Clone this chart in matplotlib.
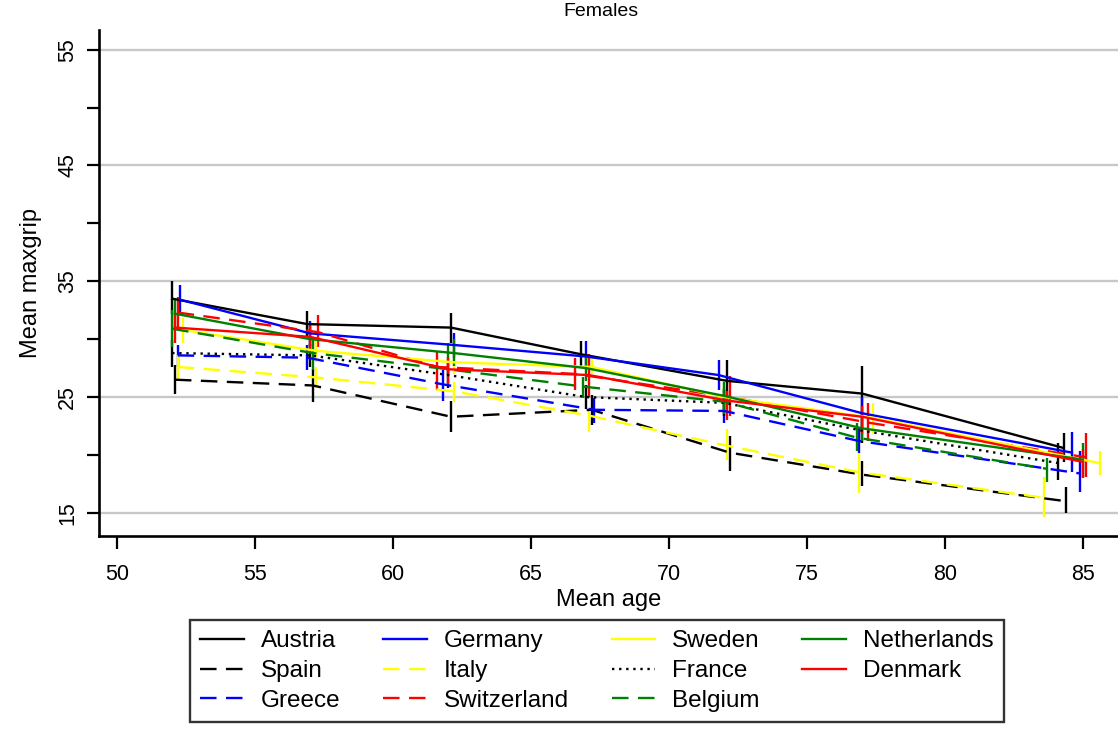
import matplotlib
matplotlib.use("Agg")
import matplotlib.pyplot as plt

plt.rcParams['font.family'] = ['Liberation Sans', 'DejaVu Sans']

# ---- data ----
countries = ['Austria', 'Spain', 'Greece', 'Germany', 'Italy', 'Switzerland',
             'Sweden', 'France', 'Belgium', 'Netherlands', 'Denmark']

age = {
    'Austria':     [52.0, 56.9, 62.1, 66.8, 72.1, 77.0, 84.3],
    'Spain':       [52.1, 57.1, 62.1, 67.2, 72.2, 77.0, 84.4],
    'Greece':      [52.2, 56.9, 61.8, 67.3, 72.0, 76.9, 84.9],
    'Germany':     [52.3, 57.0, 62.2, 67.0, 71.8, 77.0, 84.6],
    'Italy':       [52.2, 57.2, 62.2, 67.1, 72.1, 76.9, 83.6],
    'Switzerland': [52.2, 57.3, 61.6, 66.6, 72.2, 77.2, 85.1],
    'Sweden':      [52.4, 57.2, 62.2, 67.2, 72.0, 77.4, 85.6],
    'France':      [52.0, 57.0, 62.0, 67.0, 72.0, 77.0, 84.1],
    'Belgium':     [52.0, 57.1, 62.0, 66.9, 72.0, 76.8, 83.7],
    'Netherlands': [52.1, 57.0, 62.2, 67.0, 72.0, 77.0, 85.0],
    'Denmark':     [52.1, 57.0, 62.0, 67.1, 72.1, 77.0, 85.0],
}

grip = {
    'Austria':     [33.5, 31.3, 31.0, 28.7, 26.4, 25.3, 20.6],
    'Spain':       [26.5, 26.0, 23.3, 23.9, 20.2, 18.3, 16.0],
    'Greece':      [28.6, 28.4, 26.1, 23.9, 23.8, 21.2, 18.4],
    'Germany':     [33.4, 30.5, 29.5, 28.5, 26.9, 23.6, 20.2],
    'Italy':       [27.6, 26.7, 25.5, 23.4, 20.8, 18.5, 16.3],
    'Switzerland': [32.3, 30.6, 27.6, 27.0, 25.0, 22.8, 19.8],
    'Sweden':      [30.8, 29.0, 28.0, 27.6, 25.0, 23.2, 19.3],
    'France':      [28.8, 28.6, 26.9, 25.0, 24.5, 22.1, 19.3],
    'Belgium':     [30.9, 28.8, 27.4, 25.9, 24.6, 21.5, 18.8],
    'Netherlands': [32.2, 30.0, 28.8, 27.5, 25.1, 22.3, 19.6],
    'Denmark':     [31.0, 30.2, 27.4, 26.9, 24.7, 23.3, 19.4],
}

ci_low = {
    'Austria':     [32.2, 30.2, 29.7, 27.6, 24.5, 23.0, 19.4],
    'Spain':       [25.3, 24.6, 22.0, 22.6, 18.6, 17.3, 15.0],
    'Greece':      [27.6, 27.3, 24.7, 22.8, 22.8, 20.2, 16.8],
    'Germany':     [32.2, 29.4, 28.4, 27.4, 25.6, 22.2, 18.5],
    'Italy':       [26.5, 25.8, 24.6, 22.0, 19.6, 16.7, 14.6],
    'Switzerland': [31.0, 29.3, 25.6, 25.6, 23.4, 21.2, 18.1],
    'Sweden':      [29.7, 28.0, 27.0, 27.0, 23.8, 21.9, 18.3],
    'France':      [27.6, 27.6, 25.8, 24.0, 23.4, 21.0, 17.8],
    'Belgium':     [29.3, 27.3, 26.9, 24.9, 23.5, 20.3, 17.7],
    'Netherlands': [31.0, 28.9, 27.7, 26.4, 24.0, 21.2, 18.0],
    'Denmark':     [29.7, 29.0, 26.1, 25.0, 23.0, 21.8, 18.1],
}

ci_high = {
    'Austria':     [35.0, 32.4, 32.3, 29.8, 28.2, 27.7, 21.9],
    'Spain':       [27.8, 27.4, 24.7, 25.2, 21.6, 19.5, 17.2],
    'Greece':      [29.5, 29.5, 27.3, 24.9, 24.9, 22.4, 20.3],
    'Germany':     [34.7, 31.6, 30.5, 29.8, 28.2, 25.0, 22.0],
    'Italy':       [28.6, 27.6, 26.3, 23.9, 22.2, 20.2, 18.1],
    'Switzerland': [33.6, 32.1, 28.9, 28.4, 26.8, 24.5, 21.9],
    'Sweden':      [31.8, 30.0, 29.2, 28.6, 26.2, 24.5, 20.3],
    'France':      [29.9, 29.6, 28.0, 26.0, 25.6, 23.0, 21.0],
    'Belgium':     [32.5, 30.2, 29.7, 26.7, 25.8, 22.8, 19.7],
    'Netherlands': [33.5, 31.1, 30.0, 28.6, 26.3, 23.5, 21.0],
    'Denmark':     [32.3, 31.4, 28.5, 28.7, 25.5, 24.2, 20.5],
}

# ---- styles ----
colors = {
    'Austria': 'black', 'Spain': 'black', 'Greece': '#0000ff',
    'Germany': '#0000ff', 'Italy': '#ffff00', 'Switzerland': '#ff0000',
    'Sweden': '#ffff00', 'France': 'black', 'Belgium': '#008000',
    'Netherlands': '#008000', 'Denmark': '#ff0000',
}
dash = (0, (7, 4))
dot = (0, (1, 2.0))
styles = {
    'Austria': '-', 'Spain': dash, 'Greece': dash, 'Germany': '-',
    'Italy': dash, 'Switzerland': dash, 'Sweden': '-', 'France': dot,
    'Belgium': dash, 'Netherlands': '-', 'Denmark': '-',
}

fig = plt.figure(figsize=(11.18, 7.54), dpi=100)
ax = fig.add_axes([99 / 1118, (754 - 536) / 754, 1 - 99 / 1118, (536 - 30) / 754])

lw = 1.7
for c in countries:
    ax.vlines(age[c], ci_low[c], ci_high[c], colors=colors[c], linewidth=lw, zorder=3)
handles = []
for c in countries:
    h, = ax.plot(age[c], grip[c], color=colors[c], linestyle=styles[c],
                 linewidth=lw, label=c, zorder=4)
    handles.append(h)

ax.set_xlim(49.35, 86.27)
ax.set_ylim(13.0, 56.7)
ax.set_xticks([50, 55, 60, 65, 70, 75, 80, 85])
ax.set_yticks([15, 25, 35, 45, 55])
ax.set_yticks([20, 30, 40, 50], minor=True)
ax.yaxis.grid(True, which='major', color='#c8c8c8', linewidth=1.7)
ax.set_axisbelow(True)

for s in ['top', 'right']:
    ax.spines[s].set_visible(False)
for s in ['left', 'bottom']:
    ax.spines[s].set_linewidth(1.9)

ax.tick_params(axis='both', which='both', direction='out', length=9, width=1.6,
               colors='black', labelsize=15.5)
ax.tick_params(axis='x', pad=11)
ax.tick_params(axis='y', pad=6)
for t in ax.get_yticklabels():
    t.set_rotation(90)
    t.set_va('center')

ax.set_xlabel('Mean age', fontsize=17, labelpad=3)
ax.set_ylabel('Mean maxgrip', fontsize=17, labelpad=11)

fig.text(601 / 1118, 1 - 12 / 754, 'Females', ha='center', va='center', fontsize=14)

leg = fig.legend(handles=handles, labels=countries, ncol=4, loc='upper center',
                 bbox_to_anchor=(597 / 1118, 1 - 620 / 754),
                 bbox_transform=fig.transFigure, fontsize=17.5, frameon=True,
                 fancybox=False, edgecolor='black', borderpad=0.42,
                 handlelength=1.8, handletextpad=0.7, columnspacing=1.75,
                 labelspacing=0.32, borderaxespad=0)
leg.get_frame().set_linewidth(1.7)

# caption line of the source page, cut off at the bottom edge
fig.text(0.0, -1 / 754, 'djusted mean grip strength by five-year age groups (years)',
         family=['Liberation Serif', 'DejaVu Serif'], fontsize=19,
         ha='left', va='top')

fig.savefig('out.png', dpi=100)
